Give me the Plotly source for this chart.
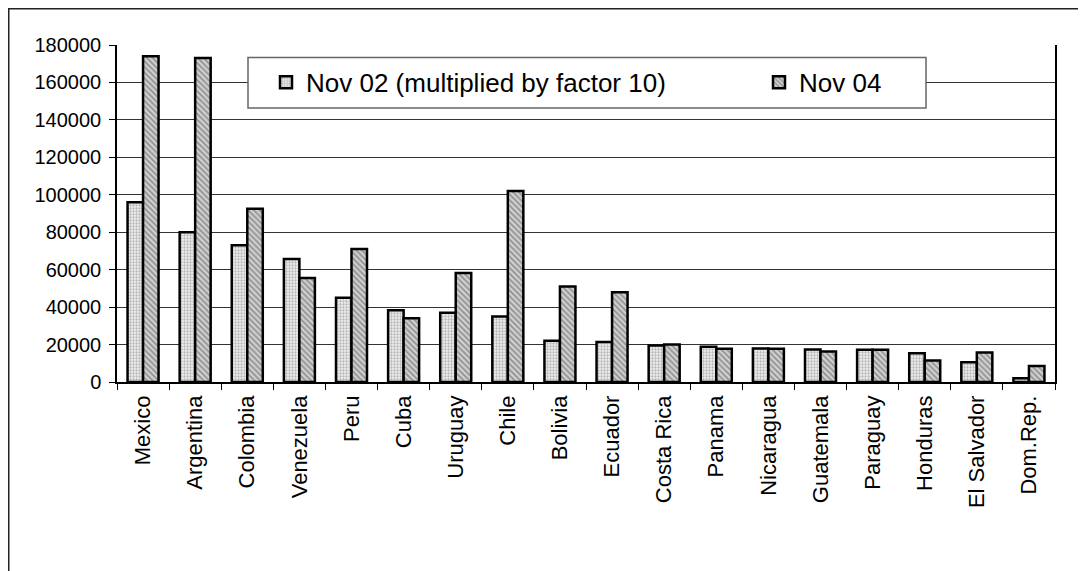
import plotly.graph_objects as go

# Países (ordem do gráfico) e valores
countries = ["Mexico", "Argentina", "Colombia", "Venezuela", "Peru", "Cuba",
             "Uruguay", "Chile", "Bolivia", "Ecuador", "Costa Rica", "Panama",
             "Nicaragua", "Guatemala", "Paraguay", "Honduras", "El Salvador",
             "Dom.Rep."]
nov02_x10 = [96000, 80000, 73000, 65700, 45000, 38300, 37000, 35000, 22000,
             21300, 19500, 18800, 17900, 17300, 17200, 15400, 10600, 2000]
nov04 = [174000, 173000, 92500, 55600, 71000, 34000, 58200, 102000, 51000,
         48000, 20000, 17700, 17700, 16300, 17200, 11500, 15700, 8600]

y_ticks = list(range(0, 180001, 20000))

FONT = "Liberation Sans, Arial, sans-serif"

# geometria em pixels da figura (a página tem 8 px de margem no body)
W, H = 1078, 563
L, R, T, B = 109, 31, 37, 188.5
PW, PH = W - L - R, H - T - B


def px_x(x):
    return (x - L) / PW


def px_y(y):
    return (H - B - y) / PH


fig = go.Figure()
fig.add_trace(go.Bar(
    x=countries, y=nov02_x10, name="Nov 02 (multiplied by factor 10)",
    legendwidth=448,
    marker=dict(color="white",
                line=dict(color="black", width=2.5),
                pattern=dict(shape=".", fgcolor="#7a7a7a", bgcolor="#f0f0f0",
                             size=3, solidity=0.45)),
))
fig.add_trace(go.Bar(
    x=countries, y=nov04, name="Nov 04",
    marker=dict(color="white",
                line=dict(color="black", width=2.5),
                pattern=dict(shape="\\", fgcolor="#585858", bgcolor="#d4d4d4",
                             size=4, solidity=0.5)),
))

# moldura externa do gráfico (só topo e esquerda aparecem no recorte)
fig.add_shape(type="rect", xref="paper", yref="paper",
              x0=px_x(0), x1=px_x(W + 10), y0=px_y(H + 10), y1=px_y(0),
              line=dict(color="#222222", width=3), fillcolor="rgba(0,0,0,0)",
              layer="above")
# caixa da legenda
fig.add_shape(type="rect", xref="paper", yref="paper",
              x0=px_x(240), x1=px_x(918), y0=px_y(100), y1=px_y(49.5),
              line=dict(color="#666666", width=1.5), fillcolor="white",
              layer="above")

fig.update_xaxes(
    type="category", tickson="boundaries", ticks="outside", ticklen=6,
    tickcolor="black", tickangle=-90, showgrid=False, ticklabelstandoff=3,
    showline=True, linecolor="black", linewidth=1.5,
    tickfont=dict(family=FONT, size=22, color="black"),
)
fig.update_yaxes(
    range=[0, 180000], tickvals=y_ticks, tickformat="d",
    ticks="outside", ticklen=6, tickcolor="black", ticklabelstandoff=4,
    showgrid=True, gridcolor="#333333", gridwidth=1,
    showline=True, linecolor="black", linewidth=1.5, mirror=True,
    zeroline=False,
    tickfont=dict(family=FONT, size=20, color="black"),
)
fig.update_layout(
    width=W, height=H, autosize=False,
    margin=dict(l=L, r=R, t=T, b=B, pad=0),
    paper_bgcolor="white", plot_bgcolor="white",
    barmode="group", bargap=0.405, bargroupgap=0,
    font=dict(family=FONT, size=20, color="black"),
    showlegend=True,
    legend=dict(orientation="h", x=px_x(258), xanchor="left",
                y=px_y(74.5), yanchor="middle",
                bgcolor="rgba(0,0,0,0)", borderwidth=0,
                font=dict(family=FONT, size=26, color="black")),
)

fig.write_html("out.html")
